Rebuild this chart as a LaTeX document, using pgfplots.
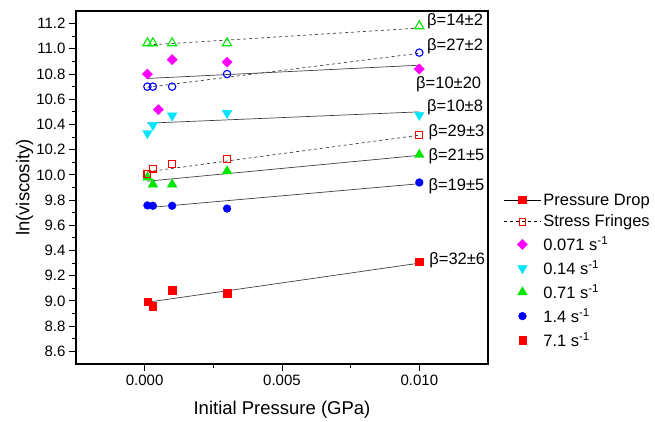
\documentclass[border=0pt]{standalone}
\usepackage{fontspec}
\setmainfont{Liberation Sans}
\usepackage{pgfplots}
\pgfplotsset{compat=1.18}
\definecolor{cmag}{RGB}{255,0,255}
\definecolor{ccyan}{RGB}{0,230,255}
\definecolor{cgreen}{RGB}{0,230,0}
\definecolor{cblue}{RGB}{0,0,255}
\definecolor{cred}{RGB}{255,0,0}
\tikzset{fitline/.style={black!75, line width=0.7pt}}
\begin{document}
\begin{tikzpicture}
\begin{axis}[
  scale only axis, width=412pt, height=353pt,
  xmin=-0.0025, xmax=0.0125, ymin=8.5, ymax=11.3,
  xtick={0,0.005,0.01}, ytick={8.6,8.8,9.0,9.2,9.4,9.6,9.8,10.0,10.2,10.4,10.6,10.8,11.0,11.2},
  minor x tick num=1, minor y tick num=1,
  scaled x ticks=false,
  tick align=outside, tick pos=left,
  major tick length=7pt, minor tick length=4pt,
  axis line style={line width=1.2pt},
  every tick/.style={line width=1pt, black},
  /pgf/number format/assume math mode=true,
  xticklabel style={/pgf/number format/.cd, fixed, fixed zerofill, precision=3},
  yticklabel style={/pgf/number format/.cd, fixed, fixed zerofill, precision=1},
  ticklabel style={font=\fontsize{15}{18}\selectfont},
  xlabel={Initial Pressure (GPa)}, ylabel={ln(viscosity)},
  label style={font=\fontsize{18.5}{22}\selectfont},
  xlabel style={at={(axis description cs:0.5,-0.13)}, anchor=center},
  ylabel style={at={(axis description cs:-0.125,0.5)}, anchor=center},
  clip=false,
  legend style={draw=none, fill=none, at={(rel axis cs:1.03,0.494)}, anchor=north west,
    font=\fontsize{16.5}{19}\selectfont, cells={anchor=west}, row sep=4.2pt},
  legend image code/.code={\draw[mark repeat=2,mark phase=2,#1] plot coordinates {(0pt,0pt)(18.5pt,0pt)(37pt,0pt)};},
]
% legend-only entries
\addlegendimage{black, line width=0.8pt, mark=square*, mark size=3.6pt, mark options={solid, fill=cred, draw=cred}}
\addlegendentry{Pressure Drop}
\addlegendimage{black, dashed, line width=0.8pt, mark=square, mark size=3.4pt, mark options={solid, draw=cred, line width=1pt}}
\addlegendentry{Stress Fringes}

% filled markers (pressure drop)
\addplot[only marks, mark=square*, mark size=3.6pt, mark options={rotate=45}, color=cmag] coordinates {
 (0.0001,10.80) (0.0005,10.517) (0.001,10.915) (0.003,10.894) (0.01,10.84)};
\addlegendentry{0.071 s\textsuperscript{-1}}
\addplot[only marks, mark=triangle*, mark size=5.5pt, mark options={rotate=180}, color=ccyan] coordinates {
 (0.0001,10.33) (0.0003,10.395) (0.001,10.47) (0.003,10.49) (0.01,10.475)};
\addlegendentry{0.14 s\textsuperscript{-1}}
\addplot[only marks, mark=triangle*, mark size=5.5pt, color=cgreen] coordinates {
 (0.0001,9.98) (0.0003,9.925) (0.001,9.925) (0.003,10.03) (0.01,10.16)};
\addlegendentry{0.71 s\textsuperscript{-1}}
\addplot[only marks, mark=*, mark size=3.9pt, color=cblue] coordinates {
 (0.0001,9.758) (0.0003,9.755) (0.001,9.755) (0.003,9.733) (0.01,9.94)};
\addlegendentry{1.4 s\textsuperscript{-1}}
\addplot[only marks, mark=square*, mark size=3.7pt, color=cred] coordinates {
 (0.0001,8.995) (0.0003,8.958) (0.001,9.086) (0.003,9.062) (0.01,9.31)};
\addlegendentry{7.1 s\textsuperscript{-1}}

% open markers (stress fringes)
\addplot[forget plot, only marks, mark=triangle, mark size=5.3pt, color=cgreen, mark options={line width=1.1pt}] coordinates {
 (0.0001,11.045) (0.0003,11.045) (0.001,11.045) (0.003,11.045) (0.01,11.18)};
\addplot[forget plot, only marks, mark=o, mark size=3.7pt, color=cblue, mark options={line width=1.1pt}] coordinates {
 (0.0001,10.70) (0.0003,10.70) (0.001,10.70) (0.003,10.80) (0.01,10.97)};
\addplot[forget plot, only marks, mark=square, mark size=3.4pt, color=cred, mark options={line width=1.1pt}] coordinates {
 (0.0001,10.006) (0.0003,10.05) (0.001,10.085) (0.003,10.128) (0.01,10.316)};

% fit lines
\addplot[forget plot, fitline, dashed] coordinates {(0.0001,11.03) (0.01,11.165)};
\addplot[forget plot, fitline] coordinates {(0.0001,10.765) (0.01,10.87)};
\addplot[forget plot, fitline, dashed] coordinates {(0.0001,10.695) (0.01,10.965)};
\addplot[forget plot, fitline] coordinates {(0.0001,10.41) (0.01,10.50)};
\addplot[forget plot, fitline, dashed] coordinates {(0.0001,10.025) (0.01,10.315)};
\addplot[forget plot, fitline] coordinates {(0.0001,9.95) (0.01,10.155)};
\addplot[forget plot, fitline] coordinates {(0.0001,9.74) (0.01,9.93)};
\addplot[forget plot, fitline] coordinates {(0.0001,8.99) (0.01,9.30)};

% annotations
\node[anchor=west, inner sep=0pt, font=\fontsize{16.5}{19}\selectfont] at (axis cs:0.01028,11.217) {β=14±2};
\node[anchor=west, inner sep=0pt, font=\fontsize{16.5}{19}\selectfont] at (axis cs:0.01028,11.02) {β=27±2};
\node[anchor=west, inner sep=0pt, font=\fontsize{16.5}{19}\selectfont] at (axis cs:0.00988,10.72) {β=10±20};
\node[anchor=west, inner sep=0pt, font=\fontsize{16.5}{19}\selectfont] at (axis cs:0.01028,10.54) {β=10±8};
\node[anchor=west, inner sep=0pt, font=\fontsize{16.5}{19}\selectfont] at (axis cs:0.01033,10.34) {β=29±3};
\node[anchor=west, inner sep=0pt, font=\fontsize{16.5}{19}\selectfont] at (axis cs:0.01033,10.15) {β=21±5};
\node[anchor=west, inner sep=0pt, font=\fontsize{16.5}{19}\selectfont] at (axis cs:0.01033,9.91) {β=19±5};
\node[anchor=west, inner sep=0pt, font=\fontsize{16.5}{19}\selectfont] at (axis cs:0.01036,9.325) {β=32±6};
\end{axis}
\path (current axis.south west) ++(-76pt,-56pt) rectangle ++(655pt,420pt);
\end{tikzpicture}
\end{document}
